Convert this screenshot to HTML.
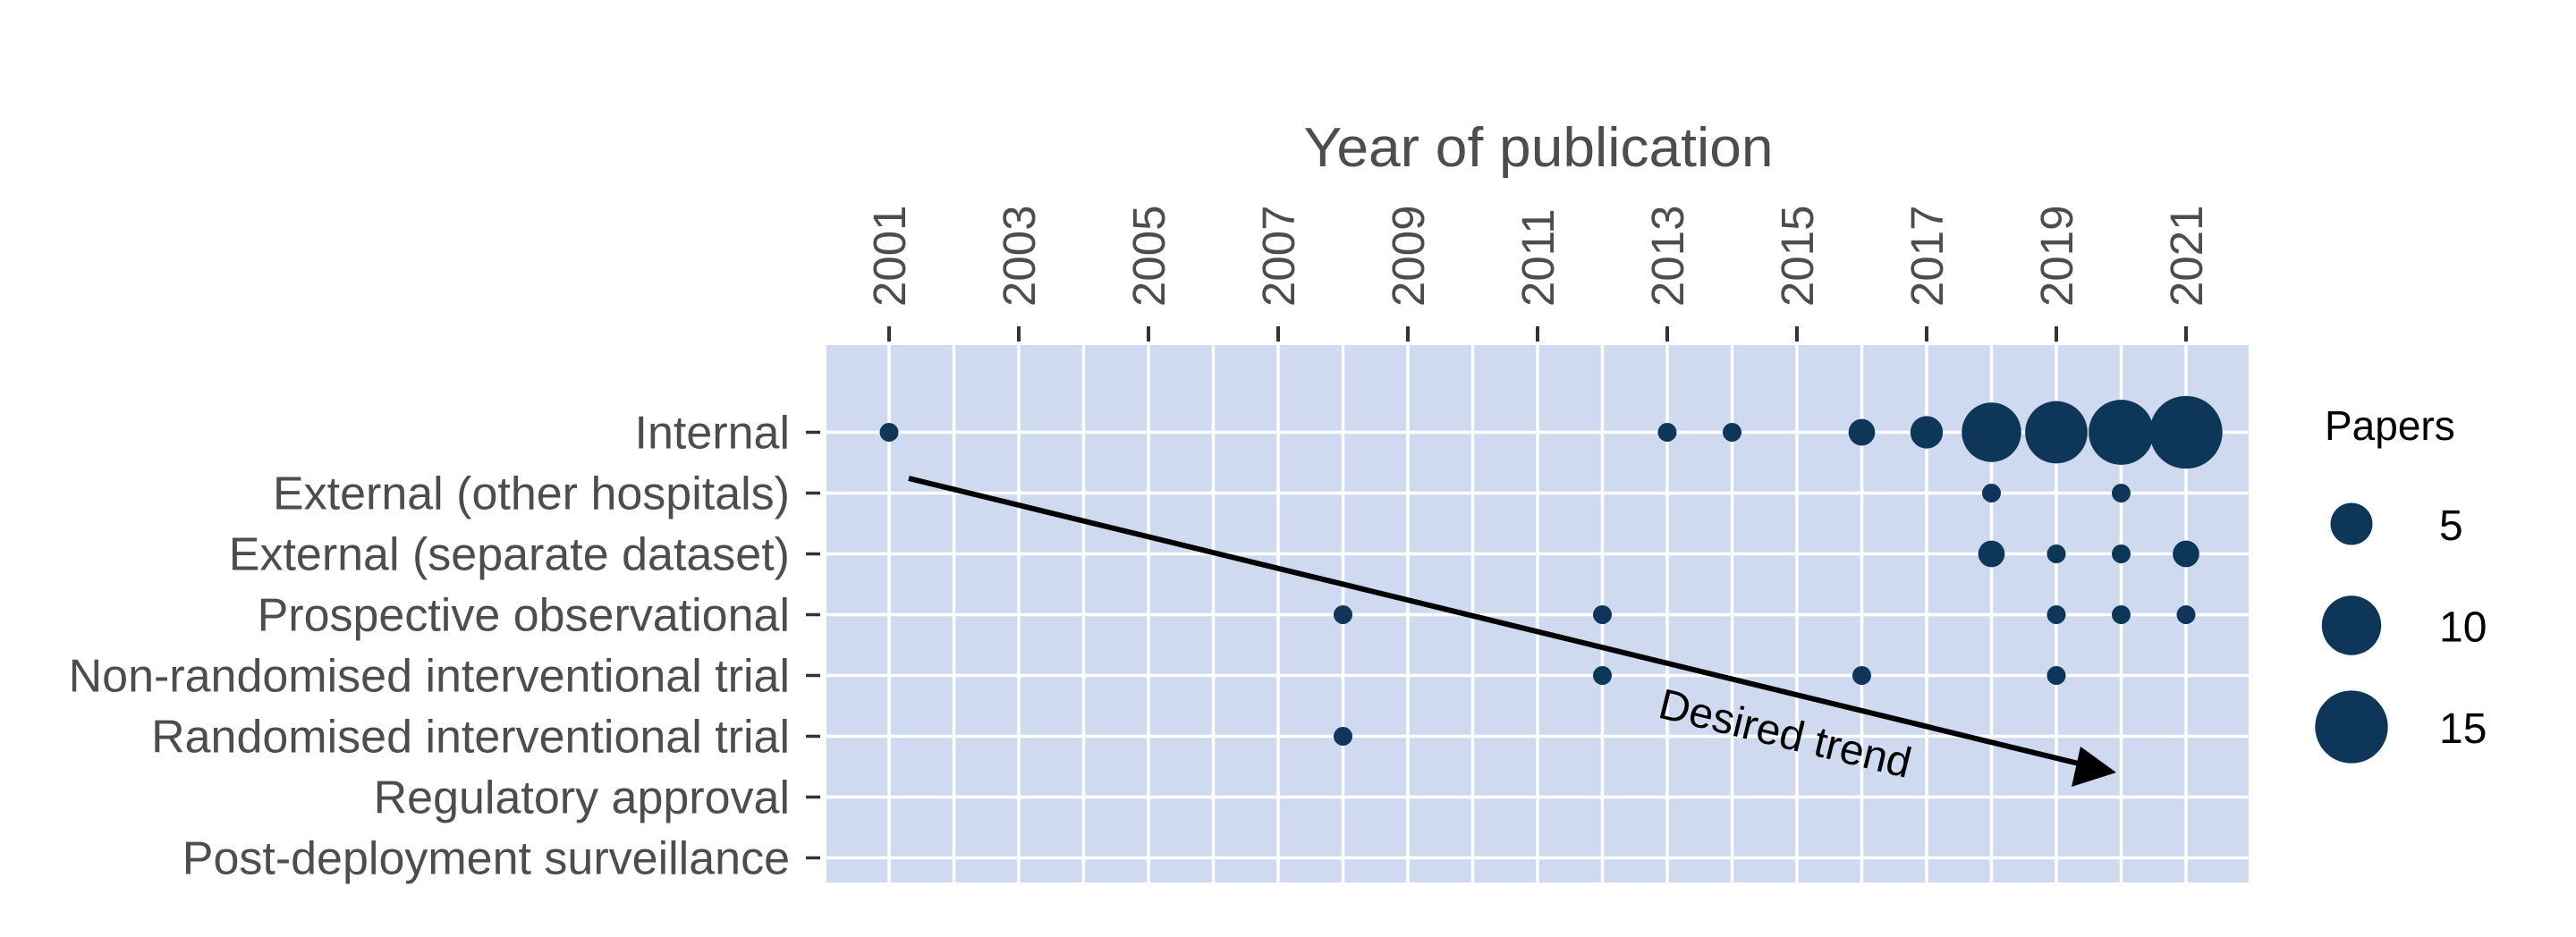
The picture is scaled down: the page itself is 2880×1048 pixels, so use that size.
<!DOCTYPE html>
<html><head><meta charset="utf-8"><style>
html,body{margin:0;padding:0;background:#fff;}
svg{display:block;font-family:"Liberation Sans",Arial,sans-serif;}
</style></head><body>
<svg id="chart" width="2880" height="1048" viewBox="0 0 2880 1048">
<rect x="924" y="386" width="1590" height="601" fill="#cfdaf1"/>
<g id="grid"></g>
<g id="xaxis"></g>
<g id="yaxis"></g>
<text x="1720" y="186" font-size="62" fill="#4d4d4d" text-anchor="middle" textLength="525" lengthAdjust="spacingAndGlyphs">Year of publication</text>
<g id="points"></g>
<g>
<line x1="1016" y1="535" x2="2328" y2="855" stroke="#000" stroke-width="6"/>
<polygon points="2366,864 2316,880 2326,835" fill="#000"/>
</g>
<text x="0" y="0" font-size="48" fill="#000" transform="translate(1852,802) rotate(13.7)">Desired trend</text>
<g id="legend"></g>
</svg>
<script>
const categories=["Internal","External (other hospitals)","External (separate dataset)","Prospective observational","Non-randomised interventional trial","Randomised interventional trial","Regulatory approval","Post-deployment surveillance"];
const yearTicks=[2001,2003,2005,2007,2009,2011,2013,2015,2017,2019,2021];
const pointYears=[2001,2013,2014,2016,2017,2018,2019,2020,2021, 2018,2020, 2018,2019,2020,2021, 2008,2012,2019,2020,2021, 2012,2016,2019, 2008];
const pointCats=[0,0,0,0,0,0,0,0,0, 1,1, 2,2,2,2, 3,3,3,3,3, 4,4,4, 5];
const pointCounts=[1,1,1,2,3,10,11,12,15, 1,1, 2,1,1,2, 1,1,1,1,1, 1,1,1, 1];
const legendValues=[5,10,15];

const NS="http://www.w3.org/2000/svg";
const X=y=>994+(y-2001)*72.5;
const Y=i=>483.5+i*68.0;
const R=n=>10.5*Math.sqrt(n);
function mk(tag,attrs,parent){const e=document.createElementNS(NS,tag);for(const k in attrs)e.setAttribute(k,attrs[k]);document.getElementById(parent).appendChild(e);return e;}

for(let y=2001;y<=2021;y++){
  const l=mk('line',{x1:X(y),x2:X(y),y1:386,y2:987,stroke:'#fff','stroke-width':3.5},'grid');
  
  
}
categories.forEach((c,i)=>{
  const l=mk('line',{x1:924,x2:2514,y1:Y(i),y2:Y(i),stroke:'#fff','stroke-width':3.5},'grid');
  
  
  const t=mk('line',{x1:901,x2:917,y1:Y(i),y2:Y(i),stroke:'#333','stroke-width':3.5},'yaxis');
  
  
  const tx=mk('text',{x:883,y:Y(i)+18,'font-size':52,fill:'#4d4d4d','text-anchor':'end'},'yaxis');
  tx.textContent=c;
  
  
});
yearTicks.forEach(y=>{
  const t=mk('line',{x1:X(y),x2:X(y),y1:365,y2:382,stroke:'#333','stroke-width':4},'xaxis');
  
  
  const tx=mk('text',{x:0,y:0,'font-size':51,fill:'#4d4d4d','text-anchor':'start',transform:`translate(${X(y)+18},343) rotate(-90)`},'xaxis');
  tx.textContent=y;
  
  
});
pointYears.forEach((y,i)=>{
  const c=mk('circle',{cx:X(y),cy:Y(pointCats[i]),r:R(pointCounts[i]),fill:'#0d3659'},'points');
  
  
});
const lt=mk('text',{x:2599,y:492,'font-size':46,fill:'#000'},'legend');
lt.textContent='Papers';


legendValues.forEach((v,i)=>{
  const cy=586+i*113.5;
  const c=mk('circle',{cx:2629,cy:cy,r:R(v),fill:'#0d3659'},'legend');
  
  
  const t=mk('text',{x:2727,y:cy+18,'font-size':48,fill:'#000'},'legend');
  t.textContent=v;
  
  
});
</script>
</body></html>
